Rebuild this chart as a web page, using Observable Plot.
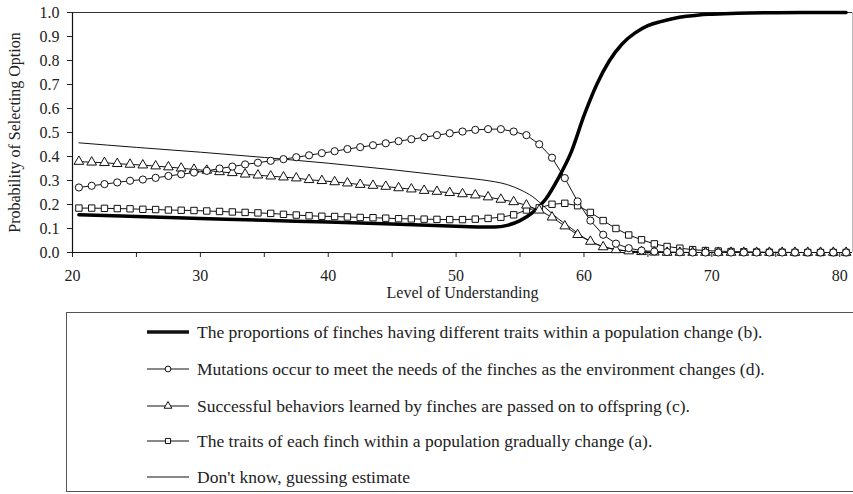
<!DOCTYPE html>
<html>
<head>
<meta charset="utf-8">
<script src="https://cdn.jsdelivr.net/npm/d3@7"></script>
<script src="https://cdn.jsdelivr.net/npm/@observablehq/plot@0.6"></script>
<style>
  html, body { margin: 0; padding: 0; background: #fff; }
  body { font-family: "Liberation Serif", "Times New Roman", serif; color: #222; overflow: hidden; }
  #wrap { position: relative; width: 853px; height: 494px; overflow: hidden; }
  #chart { position: absolute; left: 0; top: 0; }
  #legend { position: absolute; left: 66px; top: 312px; width: 820px; height: 180px;
            border: 1.5px solid #555; box-sizing: border-box; }
  .row { position: absolute; left: 0; height: 22px; width: 800px; }
  .row svg { position: absolute; left: 79px; top: 1px; }
  .row span { position: absolute; left: 130px; top: 0; line-height: 22px; white-space: nowrap; font-size: 17.5px; color: #222; }
</style>
</head>
<body>
<div id="wrap">
  <div id="chart"></div>
  <div id="legend"></div>
</div>
<script>
// ---- Data ----
// Levels where the marker series are sampled
const levels = [20.5, 21.5, 22.5, 23.5, 24.5, 25.5, 26.5, 27.5, 28.5, 29.5,
                30.5, 31.5, 32.5, 33.5, 34.5, 35.5, 36.5, 37.5, 38.5, 39.5,
                40.5, 41.5, 42.5, 43.5, 44.5, 45.5, 46.5, 47.5, 48.5, 49.5,
                50.5, 51.5, 52.5, 53.5, 54.5, 55.5, 56.5, 57.5, 58.5, 59.5,
                60.5, 61.5, 62.5, 63.5, 64.5, 65.5, 66.5, 67.5, 68.5, 69.5,
                70.5, 71.5, 72.5, 73.5, 74.5, 75.5, 76.5, 77.5, 78.5, 79.5, 80.5];

// (d) Mutations occur ... — circles
const mutationsD = [0.271, 0.278, 0.285, 0.292, 0.299, 0.304, 0.311, 0.319, 0.326, 0.333,
                    0.340, 0.350, 0.358, 0.367, 0.374, 0.382, 0.389, 0.397, 0.405, 0.414,
                    0.422, 0.431, 0.439, 0.447, 0.455, 0.464, 0.472, 0.480, 0.489, 0.497,
                    0.504, 0.511, 0.514, 0.514, 0.504, 0.489, 0.451, 0.395, 0.310, 0.213,
                    0.133, 0.074, 0.037, 0.018, 0.008, 0.004, 0.002, 0.001, 0, 0,
                    0, 0, 0, 0, 0, 0, 0, 0, 0, 0, 0];

// (c) Successful behaviors ... — triangles
const behaviorsC = [0.379, 0.376, 0.374, 0.370, 0.367, 0.364, 0.360, 0.356, 0.351, 0.346,
                    0.342, 0.336, 0.332, 0.326, 0.322, 0.318, 0.314, 0.310, 0.303, 0.299,
                    0.294, 0.289, 0.283, 0.279, 0.275, 0.269, 0.264, 0.258, 0.254, 0.249,
                    0.244, 0.239, 0.231, 0.221, 0.211, 0.197, 0.176, 0.147, 0.110, 0.074,
                    0.046, 0.023, 0.011, 0.006, 0.003, 0.001, 0, 0, 0, 0,
                    0, 0, 0, 0, 0, 0, 0, 0, 0, 0, 0];

// (a) The traits of each finch ... — squares
const traitsA = [0.185, 0.185, 0.184, 0.183, 0.182, 0.180, 0.179, 0.177, 0.176, 0.175,
                 0.173, 0.171, 0.169, 0.167, 0.165, 0.163, 0.159, 0.156, 0.153, 0.151,
                 0.150, 0.148, 0.146, 0.145, 0.143, 0.141, 0.140, 0.139, 0.138, 0.137,
                 0.137, 0.139, 0.142, 0.147, 0.157, 0.177, 0.186, 0.201, 0.205, 0.195,
                 0.167, 0.133, 0.100, 0.073, 0.053, 0.036, 0.025, 0.018, 0.012, 0.008,
                 0.006, 0.004, 0.003, 0.002, 0.001, 0.001, 0, 0, 0, 0, 0];

// Levels for the two smooth (unmarked) curves
const levelsSmooth = [20.5, 25, 30, 35, 40, 45, 50, 52, 53, 54,
                      55, 56, 57, 58, 59, 60, 61, 62, 63, 64,
                      65, 66, 67, 68, 69, 70, 72, 75, 78, 80.5];

// (b) The proportions of finches ... — bold line
const proportionsB = [0.157, 0.150, 0.142, 0.134, 0.127, 0.119, 0.109, 0.106, 0.106, 0.113,
                      0.133, 0.167, 0.222, 0.310, 0.418, 0.570, 0.700, 0.800, 0.870, 0.915,
                      0.945, 0.962, 0.975, 0.984, 0.990, 0.993, 0.997, 0.999, 1.0, 1.0];

// Don't know, guessing estimate — thin line
const dontKnow = [0.457, 0.438, 0.418, 0.396, 0.372, 0.345, 0.315, 0.303, 0.295, 0.283,
                  0.262, 0.232, 0.186, 0.140, 0.101, 0.062, 0.034, 0.018, 0.009, 0.004,
                  0.002, 0.001, 0, 0, 0, 0, 0, 0, 0, 0];

const xTicks = [20, 25, 30, 35, 40, 45, 50, 55, 60, 65, 70, 75, 80];
const yTicks = [0, 0.1, 0.2, 0.3, 0.4, 0.5, 0.6, 0.7, 0.8, 0.9, 1.0];
const xTitle = "Level of Understanding";
const yTitle = "Probability of Selecting Option";
const legendLabels = [
  "The proportions of finches having different traits within a population change (b).",
  "Mutations occur to meet the needs of the finches as the environment changes (d).",
  "Successful behaviors learned by finches are passed on to offspring (c).",
  "The traits of each finch within a population gradually change (a).",
  "Don't know, guessing estimate"
];

// ---- Tidy tables ----
const dD = levels.map((x, i) => ({x, y: mutationsD[i]}));
const dC = levels.map((x, i) => ({x, y: behaviorsC[i]}));
const dA = levels.map((x, i) => ({x, y: traitsA[i]}));
const dB = levelsSmooth.map((x, i) => ({x, y: proportionsB[i]}));
const dK = levelsSmooth.map((x, i) => ({x, y: dontKnow[i]}));

const FONT = '"Liberation Serif", "Times New Roman", serif';
const R = 3.6;

const chart = Plot.plot({
  width: 853,
  height: 305,
  marginLeft: 72,
  marginRight: 1,
  marginTop: 12,
  marginBottom: 53,
  style: {fontFamily: FONT, fontSize: "16px", color: "#222", background: "transparent", overflow: "visible"},
  x: {domain: [20, 81]},
  y: {domain: [0, 1]},
  marks: [
    Plot.axisY({ticks: yTicks, tickFormat: d3.format(".1f"), tickSize: 5, tickPadding: 8, label: null}),
    Plot.axisX({ticks: xTicks, tickFormat: d => (d % 10 === 0 ? String(d) : ""), tickSize: 5, tickPadding: 12, label: null}),
    Plot.ruleX([81], {stroke: "#bbb", strokeWidth: 1}),
    Plot.ruleY([1], {stroke: "#333", strokeWidth: 1.2}),
    Plot.ruleY([0], {stroke: "#111", strokeWidth: 1.2}),
    Plot.ruleX([20], {stroke: "#111", strokeWidth: 1.2}),
    // Don't know (thin)
    Plot.line(dK, {x: "x", y: "y", curve: "monotone-x", stroke: "#111", strokeWidth: 1}),
    // Bold (b)
    Plot.line(dB, {x: "x", y: "y", curve: "monotone-x", stroke: "#000", strokeWidth: 3.5}),
    // Marker series
    Plot.line(dA, {x: "x", y: "y", stroke: "#111", strokeWidth: 1}),
    Plot.line(dC, {x: "x", y: "y", stroke: "#111", strokeWidth: 1}),
    Plot.line(dD, {x: "x", y: "y", stroke: "#111", strokeWidth: 1}),
    Plot.dot(dA, {x: "x", y: "y", symbol: "square", r: R, fill: "white", stroke: "#111", strokeWidth: 1}),
    Plot.dot(dC, {x: "x", y: "y", symbol: "triangle", r: R, fill: "white", stroke: "#111", strokeWidth: 1}),
    Plot.dot(dD, {x: "x", y: "y", symbol: "circle", r: R, fill: "white", stroke: "#111", strokeWidth: 1}),
    Plot.text([xTitle], {text: d => d, frameAnchor: "bottom", dy: 45, textAnchor: "middle", fill: "#222"}),
    Plot.text([yTitle], {text: d => d, frameAnchor: "left", dx: -58, rotate: -90, textAnchor: "middle", fill: "#222"})
  ]
});
document.getElementById("chart").appendChild(chart);

// ---- Legend ----
const legend = document.getElementById("legend");
const rowTops = [8, 45, 82, 117, 153];
const swatchKinds = ["bold", "circle", "triangle", "square", "thin"];
legendLabels.forEach((label, i) => {
  const row = document.createElement("div");
  row.className = "row";
  row.style.top = rowTops[i] + "px";
  const ns = "http://www.w3.org/2000/svg";
  const svg = document.createElementNS(ns, "svg");
  svg.setAttribute("width", 44);
  svg.setAttribute("height", 20);
  const line = document.createElementNS(ns, "line");
  line.setAttribute("x1", 1); line.setAttribute("x2", 43);
  line.setAttribute("y1", 10); line.setAttribute("y2", 10);
  line.setAttribute("stroke", "#111");
  line.setAttribute("stroke-width", swatchKinds[i] === "bold" ? 3.5 : 1);
  svg.appendChild(line);
  const k = swatchKinds[i];
  if (k === "circle" || k === "triangle" || k === "square") {
    const sym = {circle: d3.symbolCircle, triangle: d3.symbolTriangle, square: d3.symbolSquare}[k];
    const p = document.createElementNS(ns, "path");
    p.setAttribute("d", d3.symbol(sym, 26)());
    p.setAttribute("transform", "translate(22,10)");
    p.setAttribute("fill", "white");
    p.setAttribute("stroke", "#111");
    p.setAttribute("stroke-width", 1);
    svg.appendChild(p);
  }
  row.appendChild(svg);
  const span = document.createElement("span");
  span.textContent = label;
  row.appendChild(span);
  legend.appendChild(row);
});
</script>
</body>
</html>
